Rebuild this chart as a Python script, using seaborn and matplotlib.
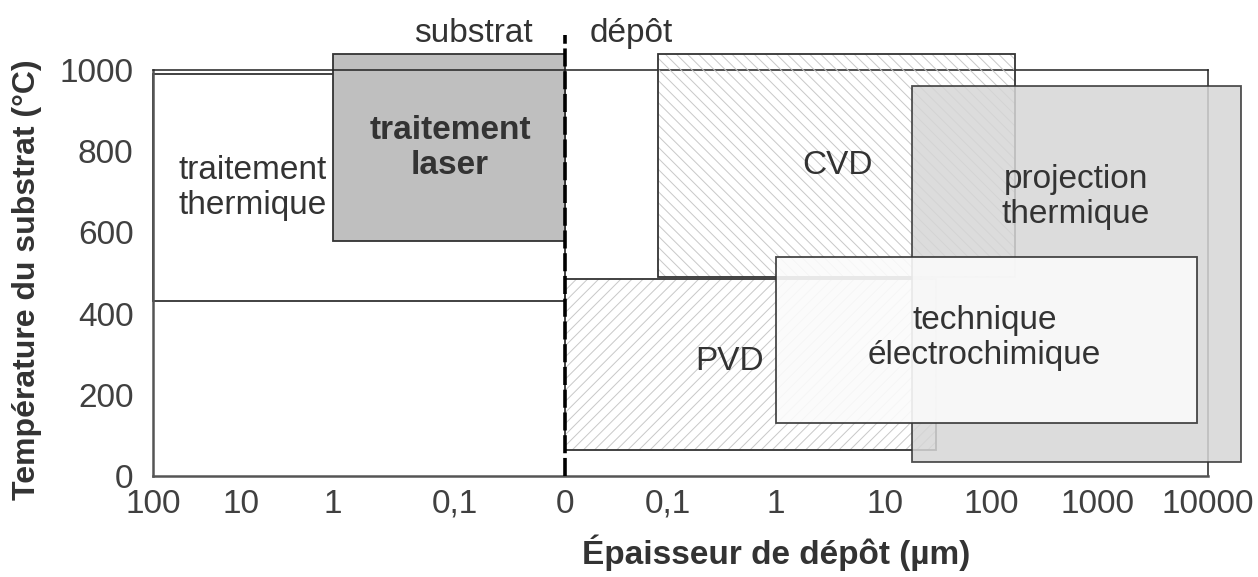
import numpy as np
import matplotlib
matplotlib.use("Agg")
from matplotlib import pyplot as plt
from matplotlib.patches import Rectangle
import seaborn as sns

# process domains: signed thickness (negative = substrat side, positive = dépôt side)
methods = ["traitement\nthermique", "traitement\nlaser", "CVD", "PVD",
           "projection\nthermique", "technique\nélectrochimique"]
x_min = [-100, -1, 0.09, 0, 18, 1]
x_max = [0, 0, 170, 30, 20000, 8000]
t_min = [430, 580, 490, 65, 35, 130]
t_max = [990, 1040, 1040, 485, 960, 540]
label_x = [-7.5, -0.11, 3.7, 0.375, 630, 87]
label_y = [709, 808, 766, 281, 687, 340]

tick_values = [-100, -10, -1, -0.1, 0, 0.1, 1, 10, 100, 1000, 10000]
tick_labels = ["100", "10", "1", "0,1", "0", "0,1", "1", "10", "100", "1000", "10000"]

# uneven axis: where each decade sits along the axis (scale definition)
decade_g = [-5, -4, -3, -2, -1, 0, 1, 2, 3, 4, 5, 6, 7]
decade_pos = [63, 153, 241, 333, 455, 565, 668, 776, 885, 991, 1097, 1208, 1319]


def to_g(x):
    x = np.asarray(x, dtype=float)
    ax_ = np.maximum(np.abs(x), 0.1)
    return np.where(np.abs(x) >= 0.1, np.sign(x) * (np.log10(ax_) + 2), x * 10)


def from_g(g):
    g = np.asarray(g, dtype=float)
    return np.where(np.abs(g) >= 1, np.sign(g) * 10 ** (np.abs(g) - 2), g / 10)


def forward(x):
    return np.interp(to_g(x), decade_g, decade_pos)


def inverse(p):
    return from_g(np.interp(p, decade_pos, decade_g))


sns.set_theme(style="white")
plt.rcParams["font.family"] = ["Liberation Sans", "DejaVu Sans"]
plt.rcParams["hatch.linewidth"] = 0.7

text_color = "#333333"
edge = "#333333"
hatch_color = "#c8c8c8"

fig, ax = plt.subplots(figsize=(12.58, 5.77), dpi=100)
fig.subplots_adjust(left=0.1216, right=0.9603, bottom=0.175, top=0.8787)
ax.set_xscale("function", functions=(forward, inverse))
ax.set_xlim(-100, 10000)
ax.set_ylim(0, 1000)

styles = [
    dict(face="white", alpha=1.0, hatch=None, z=0.3, bold=False),
    dict(face="#bfbfbf", alpha=1.0, hatch=None, z=0.4, bold=True),
    dict(face="none", alpha=1.0, hatch="\\\\\\", z=1.0, bold=False),
    dict(face="none", alpha=1.0, hatch="///", z=1.1, bold=False),
    dict(face="#d6d6d6", alpha=0.85, hatch=None, z=1.2, bold=False),
    dict(face="#fbfbfb", alpha=0.9, hatch=None, z=1.3, bold=False),
]

for i, name in enumerate(methods):
    st = styles[i]
    w = x_max[i] - x_min[i]
    h = t_max[i] - t_min[i]
    if st["hatch"]:
        ax.add_patch(Rectangle((x_min[i], t_min[i]), w, h, facecolor="none",
                               edgecolor=hatch_color, linewidth=0, hatch=st["hatch"],
                               zorder=st["z"], clip_on=False))
        ax.add_patch(Rectangle((x_min[i], t_min[i]), w, h, facecolor="none",
                               edgecolor=edge, linewidth=1.3, zorder=st["z"],
                               clip_on=False))
    else:
        ax.add_patch(Rectangle((x_min[i], t_min[i]), w, h, facecolor=st["face"],
                               alpha=st["alpha"], edgecolor=edge, linewidth=1.3,
                               zorder=st["z"], clip_on=False))
    ax.text(label_x[i], label_y[i], name, ha="center", va="center",
            fontsize=24, color=text_color, linespacing=1.15,
            fontweight="bold" if st["bold"] else "normal", zorder=5)

# substrat / dépôt separator
ax.plot([0, 0], [0, 1085], color="black", linewidth=2.6, dashes=(5, 1.3),
        clip_on=False, zorder=4)
ax.annotate("substrat", xy=(0, 1069), xytext=(-32, 0), textcoords="offset pixels",
            ha="right", va="baseline", fontsize=24, color=text_color,
            annotation_clip=False)
ax.annotate("dépôt", xy=(0, 1069), xytext=(25, 0), textcoords="offset pixels",
            ha="left", va="baseline", fontsize=24, color=text_color,
            annotation_clip=False)

ax.set_xticks(tick_values)
ax.set_xticklabels(tick_labels)
ax.set_yticks([0, 200, 400, 600, 800, 1000])
ax.tick_params(axis="both", length=0, labelsize=24, labelcolor="#404040")
ax.tick_params(axis="x", pad=9)
ax.tick_params(axis="y", pad=14)
ax.minorticks_off()

for side in ["left", "bottom"]:
    ax.spines[side].set_color("#555555")
    ax.spines[side].set_linewidth(1.8)
for side in ["top", "right"]:
    ax.spines[side].set_color("#222222")
    ax.spines[side].set_linewidth(1.1)
for sp in ax.spines.values():
    sp.set_zorder(0.5)

ax.set_xlabel("Épaisseur de dépôt (µm)", fontsize=24, fontweight="bold",
              color=text_color)
ax.xaxis.set_label_coords(0.591, -0.19)
ax.xaxis.label.set_verticalalignment("center")
ax.set_ylabel("Température du substrat (°C)", fontsize=23, fontweight="bold",
              color=text_color)
ax.yaxis.set_label_coords(-0.119, 0.483)
ax.yaxis.label.set_verticalalignment("center")

fig.savefig("out.png", dpi=100)
plt.close(fig)
